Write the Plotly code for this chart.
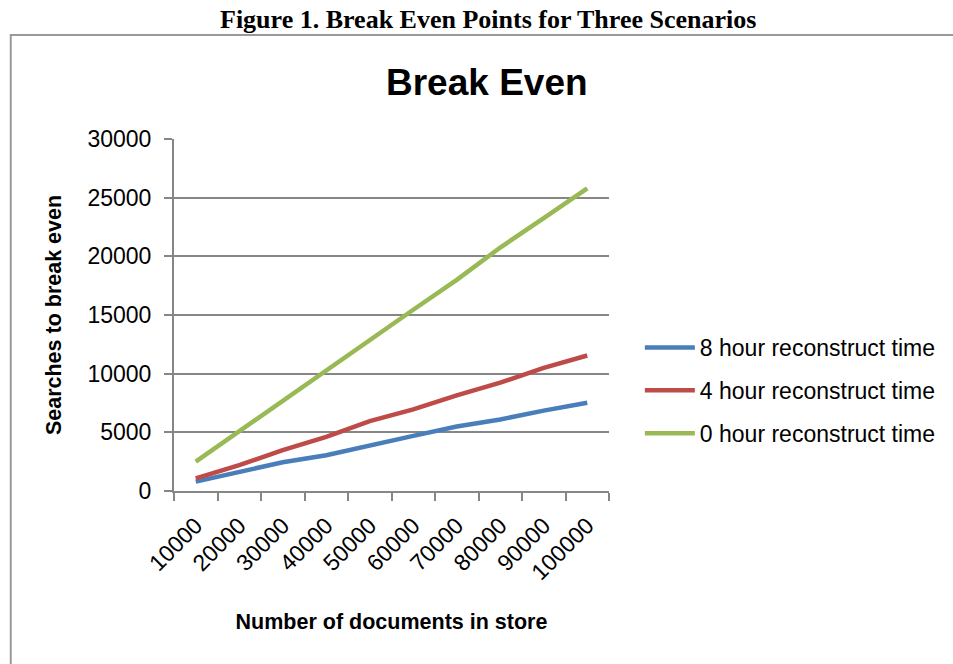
import plotly.graph_objects as go

categories = ["10000", "20000", "30000", "40000", "50000",
              "60000", "70000", "80000", "90000", "100000"]
hours8 = [800, 1650, 2450, 3050, 3900, 4700, 5500, 6100, 6850, 7520]
hours4 = [1080, 2200, 3480, 4620, 5950, 6950, 8150, 9230, 10500, 11550]
hours0 = [2500, 5100, 7750, 10350, 12850, 15450, 18000, 20750, 23250, 25800]
series_names = ["8 hour reconstruct time", "4 hour reconstruct time", "0 hour reconstruct time"]
series_values = [hours8, hours4, hours0]
series_colors = ["#4A7EBB", "#BE4B48", "#98B954"]
y_ticks = [0, 5000, 10000, 15000, 20000, 25000, 30000]
y_tick_labels = [str(v) for v in y_ticks]

W, H = 953, 664
L, R, T, B = 174, 611, 139, 491  # plot area pixel bounds
pw, ph = R - L, B - T


def px(x):
    return (x - L) / pw


def py(y):
    return (B - y) / ph


fig = go.Figure()
for i, (name, vals, col) in enumerate(zip(series_names, series_values, series_colors)):
    fig.add_trace(go.Scatter(
        x=categories, y=vals, name=name, mode="lines",
        line=dict(color=col, width=4.5), legendgroup=str(i),
    ))

FAM = "Liberation Sans, Arial, sans-serif"
axis_font = dict(family=FAM, size=23, color="#000000")
title_font = dict(family=FAM, size=21.5, color="#000000")

fig.update_layout(
    width=W, height=H,
    margin=dict(l=L, r=W - R, t=T, b=H - B, pad=0),
    paper_bgcolor="white", plot_bgcolor="white",
    showlegend=True,
    legend=dict(
        x=px(642), y=py(326), xanchor="left", yanchor="top",
        font=axis_font, traceorder="grouped", tracegroupgap=10,
        itemwidth=50, bgcolor="rgba(0,0,0,0)",
    ),
    xaxis=dict(
        type="category", showgrid=False, showline=True, linecolor="#868686", linewidth=2,
        ticks="outside", tickson="boundaries", ticklen=8, tickcolor="#868686", tickwidth=2,
        tickangle=-45, tickfont=axis_font, ticklabelstandoff=10,
        title=dict(text="<b>Number of documents in store</b>", font=title_font, standoff=30),
        range=[-0.5, 9.5],
    ),
    yaxis=dict(
        range=[0, 30000], tickvals=y_ticks, ticktext=y_tick_labels,
        showgrid=True, gridcolor="#868686", gridwidth=2,
        showline=True, linecolor="#868686", linewidth=2, zeroline=False,
        ticks="outside", ticklen=8, tickcolor="#868686", tickwidth=2,
        tickfont=axis_font, ticklabelstandoff=8,
        title=dict(text="<b>Searches to break even</b>", font=title_font, standoff=20),
    ),
)

# outer frame
fig.add_shape(type="rect", xref="paper", yref="paper",
              x0=px(10), x1=px(960), y0=py(680), y1=py(35),
              line=dict(color="#999999", width=2), layer="below")

# figure caption
fig.add_annotation(text="<b>Figure 1. Break Even Points for Three Scenarios</b>",
                   xref="paper", yref="paper", x=px(489), y=py(19),
                   xanchor="center", yanchor="middle", showarrow=False,
                   font=dict(family="Liberation Serif, Times New Roman, serif", size=26, color="#000"))
# chart title
fig.add_annotation(text="<b>Break Even</b>",
                   xref="paper", yref="paper", x=px(488), y=py(82),
                   xanchor="center", yanchor="middle", showarrow=False,
                   font=dict(family=FAM, size=37, color="#000"))

fig.write_html("out.html")
